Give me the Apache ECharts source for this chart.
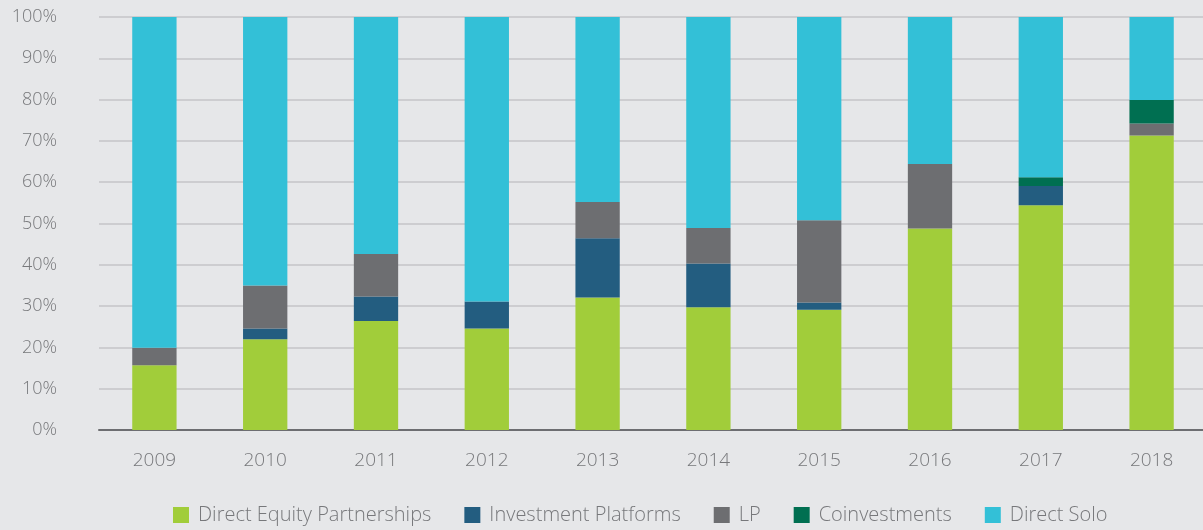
<!DOCTYPE html>
<html>
<head>
<meta charset="utf-8">
<script src="https://cdn.jsdelivr.net/npm/echarts@6/dist/echarts.min.js"></script>
<style>
  html, body { margin: 0; padding: 0; background: #e6e7e9; }
  #chart { width: 1203px; height: 530px; }
</style>
</head>
<body>
<div id="chart"></div>
<script>
// years
var years = ['2009', '2010', '2011', '2012', '2013', '2014', '2015', '2016', '2017', '2018'];
// share of each type, percent
var directEquity = [15.7, 22.0, 26.4, 24.6, 32.1, 29.7, 29.1, 48.8, 54.4, 71.3];
var investPlatforms = [0, 2.6, 5.9, 6.5, 14.3, 10.6, 1.8, 0, 4.7, 0];
var lp = [4.2, 10.4, 10.3, 0, 8.8, 8.6, 19.9, 15.6, 0, 2.9];
var coinvest = [0, 0, 0, 0, 0, 0, 0, 0, 2.1, 5.7];
var directSolo = [80.1, 65.0, 57.4, 68.9, 44.8, 51.1, 49.2, 35.6, 38.8, 20.1];

var font = 'Open Sans';
var txtColor = '#77787b';

function bar(name, data, color) {
  return {
    name: name,
    type: 'bar',
    stack: 'total',
    barWidth: '40%',
    data: data,
    itemStyle: { color: color },
    emphasis: { disabled: true }
  };
}

var myChart = echarts.init(document.getElementById('chart'));
var option = {
  backgroundColor: '#e6e7e9',
  animation: false,
  grid: {
    left: 99,
    width: 1108,
    top: 17,
    height: 413,
    outerBoundsMode: 'none'
  },
  legend: {
    bottom: 0,
    left: 168,
    icon: 'rect',
    itemWidth: 16,
    itemHeight: 16,
    itemGap: 33,
    textStyle: { color: txtColor, fontSize: 20, fontFamily: font, fontWeight: 300, padding: [0, 0, 0, 4] },
    data: ['Direct Equity Partnerships', 'Investment Platforms', 'LP', 'Coinvestments', 'Direct Solo']
  },
  xAxis: {
    type: 'category',
    data: years,
    axisTick: { show: false },
    axisLine: { lineStyle: { color: '#6d6e71', width: 2 } },
    axisLabel: { color: txtColor, fontSize: 19, fontFamily: font, fontWeight: 300, margin: 21 }
  },
  yAxis: {
    type: 'value',
    min: 0,
    max: 100,
    interval: 10,
    axisLine: { show: false },
    axisTick: { show: false },
    splitLine: { lineStyle: { color: '#c4c5c7', width: 1.5 } },
    axisLabel: {
      color: txtColor, fontSize: 18, fontFamily: font, fontWeight: 300, margin: 42,
      formatter: '{value}%'
    }
  },
  series: [
    bar('Direct Equity Partnerships', directEquity, '#a1cd3a'),
    bar('Investment Platforms', investPlatforms, '#235d80'),
    bar('LP', lp, '#6d6e71'),
    bar('Coinvestments', coinvest, '#006f51'),
    bar('Direct Solo', directSolo, '#33c0d7')
  ]
};
myChart.setOption(option);
</script>
</body>
</html>
